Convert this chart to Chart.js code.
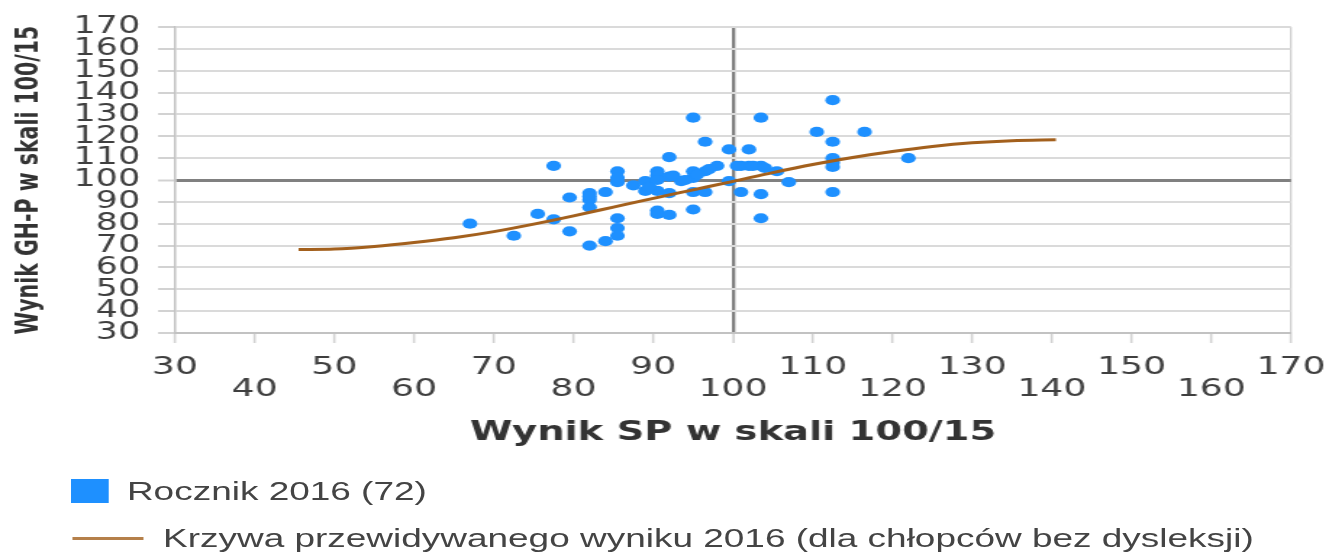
<!DOCTYPE html>
<html lang="pl">
<head>
<meta charset="utf-8">
<title>Wynik SP / Wynik GH-P</title>
<script src="https://cdn.jsdelivr.net/npm/chart.js@4.4.1/dist/chart.umd.min.js"></script>
<style>
  html, body { margin: 0; padding: 0; background: #fff; overflow: hidden; }
  /* the original picture is stretched sideways, so the whole chart is drawn narrow and widened */
  #stretch { position: absolute; left: 0; top: 0; width: 917px; height: 552px; transform: scaleX(1.44929); transform-origin: 0 0; }
  #plot { position: relative; width: 917px; height: 470px; }
  #legend { position: absolute; left: 0; top: 467.5px; width: 917px; font-family: "Liberation Sans", Arial, sans-serif; font-size: 25.5px; color: #444; }
  .legend-row { display: flex; align-items: center; height: 47px; white-space: nowrap; }
  .legend-mark { display: inline-block; flex: none; }
</style>
</head>
<body>
<div id="stretch">
  <div id="plot"><canvas id="scoreChart"></canvas></div>
  <div id="legend"></div>
</div>
<script>
// Wynik SP (x) / Wynik GH-P (y), rocznik 2016
const spScores = [
  67, 72.5, 75.5, 77.5, 77.5, 79.5, 79.5, 82, 82, 82,
  82, 84, 84, 85.5, 85.5, 85.5, 85.5, 85.5, 87.5, 89,
  89, 90.5, 90.5, 90.5, 90.5, 90.5, 92, 92, 92, 92,
  93.5, 95, 95, 95, 95, 95, 96.5, 96.5, 96.5, 98,
  99.5, 99.5, 101, 101, 102, 102, 103.5, 103.5, 103.5, 103.5,
  105.5, 107, 110.5, 112.5, 112.5, 112.5, 112.5, 112.5, 116.5, 122,
  82, 89.5, 90.5, 92.5, 94, 95.5, 97, 100.5, 102.5, 104,
  112.5, 85.5,
];
const ghpScores = [
  80, 74.5, 84.5, 106.5, 82, 92, 76.5, 94, 91, 87.5,
  70, 94.5, 72, 104, 99, 82.5, 78, 74.5, 97.5, 99.5,
  95, 104, 102, 95, 86, 84.5, 110.5, 101.5, 94, 84,
  99.5, 128.5, 104, 101, 94.5, 86.5, 117.5, 104, 94.5, 106.5,
  114, 99.5, 106.5, 94.5, 114, 106.5, 128.5, 106.5, 93.5, 82.5,
  104, 99, 122, 136.5, 117.5, 110, 106, 94.5, 122, 110,
  92.5, 97, 100, 102, 100, 102.5, 105, 106.5, 106.5, 105.5,
  108, 101,
];

// Krzywa przewidywanego wyniku
const curveSp = [45.5, 50, 55, 60, 65, 70, 75, 80, 85, 90, 95, 100, 105, 110, 115, 120, 125, 130, 135, 140.5];
const curveGhp = [68.2, 68.4, 69.6, 71.4, 73.6, 76.4, 79.8, 83.6, 87.6, 91.6, 95.5, 99.4, 103.4, 107.1, 110.3, 113, 115.3, 117, 118, 118.4];

const seriesLabels = ["Rocznik 2016 (72)", "Krzywa przewidywanego wyniku 2016 (dla chłopców bez dysleksji)"];
const xTitle = "Wynik SP w skali 100/15";
const yTitle = "Wynik GH-P w skali 100/15";
const axisMin = 30;
const axisMax = 170;
const axisStep = 10;
const meanScore = 100;

const DOT = "#1e90ff";
const CURVE = "#a3601d";
const TICK_TEXT = "#3f3f3f";
const LIGHT = "#dadada";
const MEAN_LINE = "#808080";

const points = spScores.map((x, i) => ({ x, y: ghpScores[i] }));
const curve = curveSp.map((x, i) => ({ x, y: curveGhp[i] }));

const ctx = document.getElementById("scoreChart").getContext("2d");

const chart = new Chart(ctx, {
  type: "scatter",
  data: {
    datasets: [
      {
        type: "line",
        label: seriesLabels[1],
        data: curve,
        borderColor: CURVE,
        backgroundColor: CURVE,
        borderWidth: 3,
        pointRadius: 0,
        pointHoverRadius: 0,
        cubicInterpolationMode: "monotone",
        fill: false,
        order: 0,
        legendOrder: 1,
      },
      {
        type: "scatter",
        label: seriesLabels[0],
        data: points,
        backgroundColor: DOT,
        borderWidth: 0,
        pointRadius: 5.1,
        pointHoverRadius: 5.1,
        order: 1,
        legendOrder: 0,
      },
    ],
  },
  options: {
    responsive: true,
    maintainAspectRatio: false,
    animation: false,
    events: [],
    layout: { padding: { left: 0, right: 26.2, top: 27, bottom: 0 } },
    plugins: {
      legend: { display: false },
      tooltip: { enabled: false },
    },
    scales: {
      x: {
        type: "linear",
        min: axisMin,
        max: axisMax,
        ticks: {
          stepSize: axisStep,
          autoSkip: false,
          maxRotation: 0,
          padding: 13,
          color: TICK_TEXT,
          font: { family: "'DejaVu Sans', Verdana, sans-serif", size: 25, lineHeight: 0.88 },
          // labels alternate between two rows
          callback: (v) => ((v - axisMin) % (2 * axisStep) === 0 ? String(v) : ["", String(v)]),
        },
        grid: {
          color: (c) => {
            if (c.tick.value === meanScore) return MEAN_LINE;
            if (c.tick.value === axisMax) return "#cdcdcd";
            return "rgba(0,0,0,0)";
          },
          lineWidth: (c) => (c.tick.value === meanScore ? 2.3 : 1.3),
          tickColor: "#d2d2d2",
          tickWidth: 1.6,
          tickLength: 10,
        },
        border: { color: "#c2c2c2", width: 2 },
        title: {
          display: true,
          text: xTitle,
          color: "#333",
          font: { family: "'DejaVu Sans', Verdana, sans-serif", size: 26.5, weight: "bold", lineHeight: 1.2 },
          padding: { top: 0, bottom: 21 },
        },
        afterFit: (scale) => {
          scale.height = 137;
          // the end labels may hang past the plot edges
          scale.paddingLeft = 0;
          scale.paddingRight = 0;
        },
      },
      y: {
        type: "linear",
        min: axisMin,
        max: axisMax,
        ticks: {
          stepSize: axisStep,
          autoSkip: false,
          padding: 12.4,
          color: TICK_TEXT,
          font: { family: "'DejaVu Sans', Verdana, sans-serif", size: 24 },
        },
        grid: {
          color: (c) => (c.tick.value === meanScore ? MEAN_LINE : LIGHT),
          lineWidth: (c) => (c.tick.value === meanScore ? 3 : 2),
          tickColor: "#d2d2d2",
          tickWidth: 2,
          tickLength: 11.7,
        },
        border: { color: "#c2c2c2", width: 1.5 },
        title: {
          display: true,
          text: yTitle,
          color: "#333",
          font: { family: "'DejaVu Sans', Verdana, sans-serif", size: 20.5, weight: "bold", lineHeight: 1.2 },
          padding: { top: 8, bottom: 0 },
        },
        afterFit: (scale) => {
          scale.width = 120.75;
        },
      },
    },
  },
});

/* HTML legend: one row per dataset, box for the points, line for the curve */
const legendBox = document.getElementById("legend");
const legendItems = chart.data.datasets
  .slice()
  .sort((a, b) => a.legendOrder - b.legendOrder);

legendItems.forEach((ds) => {
  const row = document.createElement("div");
  row.className = "legend-row";
  const mark = document.createElement("span");
  mark.className = "legend-mark";
  const text = document.createElement("span");
  text.textContent = ds.label;
  if (ds.type === "line") {
    mark.style.marginLeft = "49.7px";
    mark.style.width = "49px";
    mark.style.height = "3px";
    mark.style.background = ds.borderColor;
    mark.style.opacity = "0.8";
    text.style.marginLeft = "13.8px";
  } else {
    mark.style.marginLeft = "49px";
    mark.style.width = "26.2px";
    mark.style.height = "24px";
    mark.style.background = ds.backgroundColor;
    text.style.marginLeft = "12.4px";
  }
  row.appendChild(mark);
  row.appendChild(text);
  legendBox.appendChild(row);
});
</script>
</body>
</html>
